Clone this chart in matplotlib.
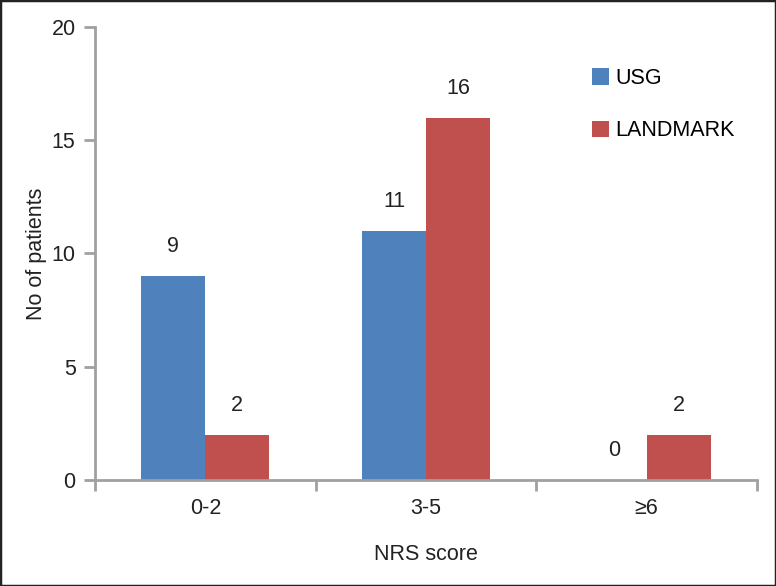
import numpy as np
import matplotlib
matplotlib.use('Agg')
import matplotlib.pyplot as plt
from matplotlib.patches import Patch

plt.rcParams['font.family'] = ['Liberation Sans', 'DejaVu Sans']

categories = ['0-2', '3-5', '≥6']
usg = [9, 11, 0]
landmark = [2, 16, 2]

blue = '#4F81BD'
red = '#C0504D'
grey = '#A0A0A0'
fs = 15.5

fig = plt.figure(figsize=(7.76, 5.86), dpi=100)
ax = fig.add_axes([95 / 776, 1 - 480 / 586, 662 / 776, 453 / 586])

x = np.arange(len(categories))
w = 0.29
ax.bar(x - w / 2, usg, w, color=blue)
ax.bar(x + w / 2, landmark, w, color=red)

for i in range(len(categories)):
    ax.text(x[i] - w / 2, usg[i] + 1.3, str(usg[i]), ha='center', va='center', fontsize=fs, color='#222222')
    ax.text(x[i] + w / 2, landmark[i] + 1.3, str(landmark[i]), ha='center', va='center', fontsize=fs, color='#222222')

ax.set_xlim(-0.5, 2.5)
ax.set_ylim(0, 20)
ax.set_yticks([0, 5, 10, 15, 20])
ax.set_xticks(x)
ax.set_xticklabels(categories)
ax.set_xticks([-0.5, 0.5, 1.5, 2.5], minor=True)
ax.tick_params(axis='x', which='major', length=0, pad=13, labelsize=fs, colors='#222222')
ax.tick_params(axis='x', which='minor', length=8, width=2, color=grey, direction='out')
ax.tick_params(axis='y', length=8, width=2, color=grey, labelsize=fs, labelcolor='#222222', pad=6)

for s in ['top', 'right']:
    ax.spines[s].set_visible(False)
for s in ['left', 'bottom']:
    ax.spines[s].set_color(grey)
    ax.spines[s].set_linewidth(2)

ax.set_ylabel('No of patients', fontsize=fs, color='#222222', labelpad=3)
ax.set_xlabel('NRS score', fontsize=fs, color='#222222', labelpad=18)

handles = [Patch(facecolor=blue, label='USG'), Patch(facecolor=red, label='LANDMARK')]
fig.legend(handles=handles, loc='upper left', bbox_to_anchor=(592 / 776, 1 - 68 / 586),
           frameon=False, fontsize=fs, labelspacing=1.45, handlelength=0.8, handleheight=0.8,
           handletextpad=0.3, borderpad=0, borderaxespad=0)

border = plt.Rectangle((0, 0), 1, 1, transform=fig.transFigure, fill=False,
                       edgecolor='#222222', linewidth=2.5)
fig.patches.append(border)

fig.savefig('out.png', dpi=100)
